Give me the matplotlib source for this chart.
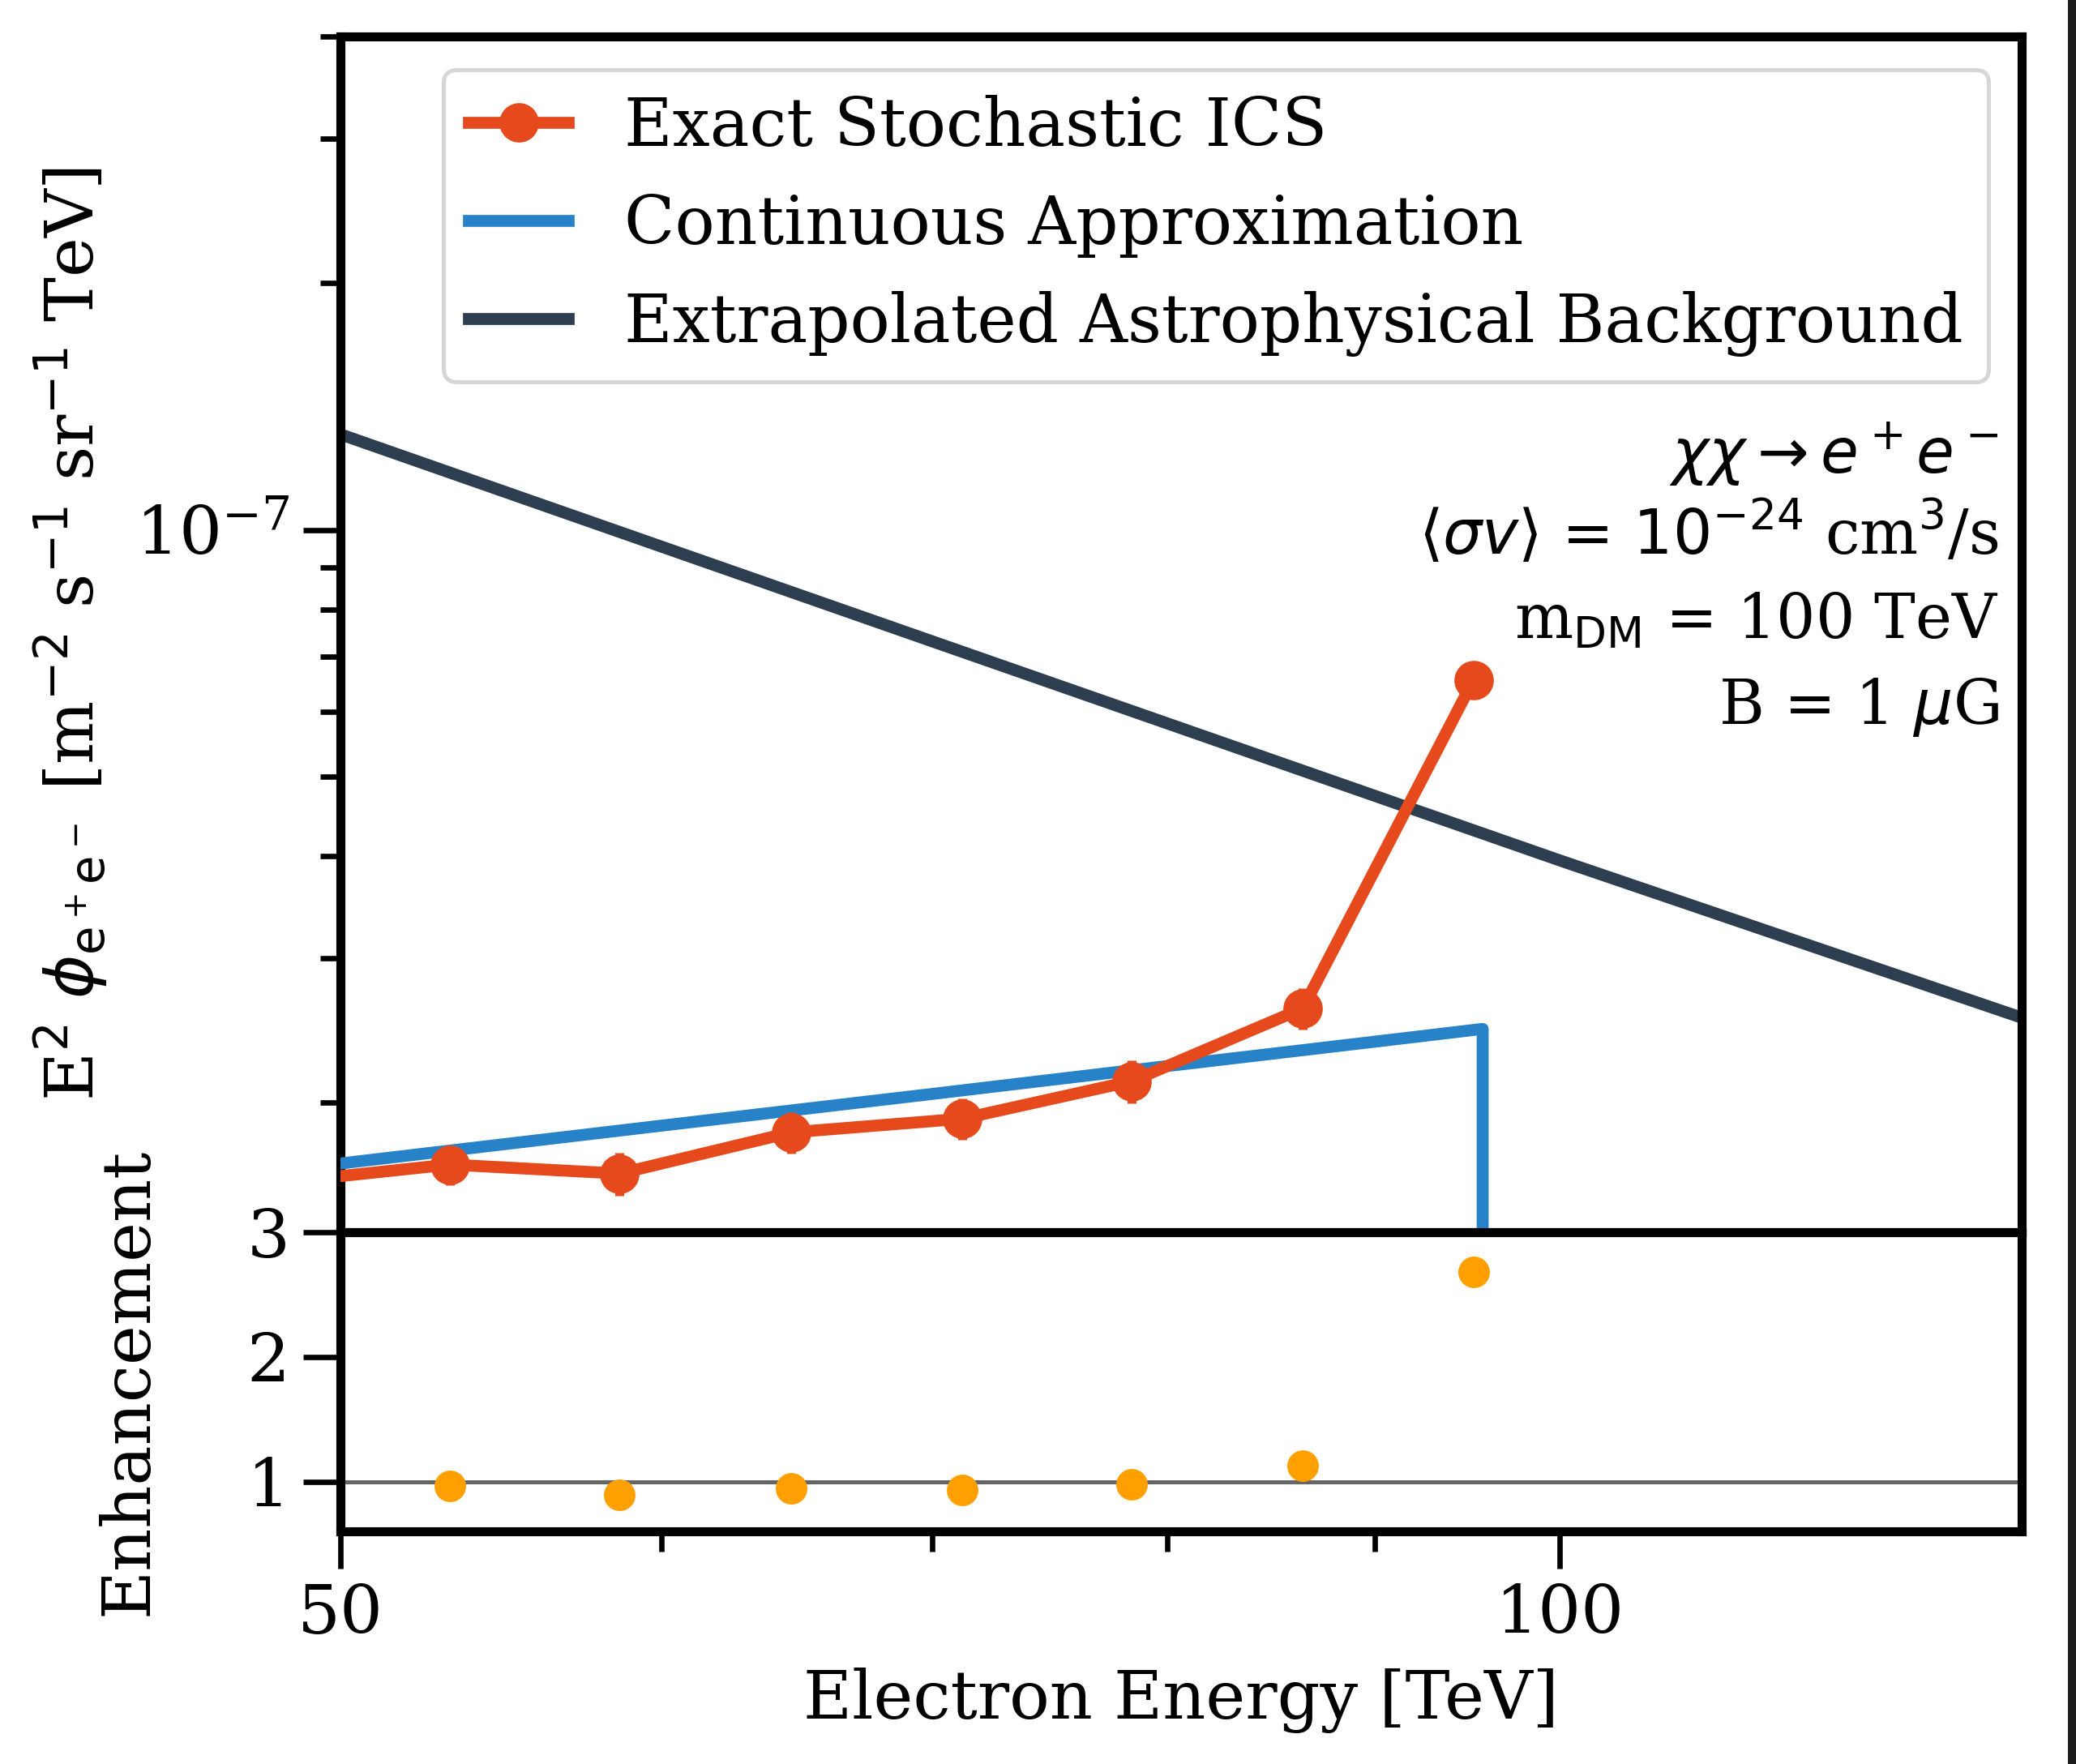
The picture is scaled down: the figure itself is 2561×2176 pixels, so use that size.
import matplotlib
matplotlib.use("Agg")
import matplotlib.pyplot as plt
from matplotlib.ticker import FixedLocator, NullFormatter, FixedFormatter, LogLocator
from matplotlib.patches import Rectangle

# ---------------- data ----------------
energy_bins = [48.3, 53.2, 58.6, 64.6, 71.2, 78.4, 86.4, 95.2]          # TeV
flux_exact = [1.598e-8, 1.681e-8, 1.639e-8, 1.840e-8, 1.912e-8, 2.125e-8, 2.607e-8, 6.556e-8]
flux_exact_err = [0.09e-8, 0.094e-8, 0.10e-8, 0.107e-8, 0.111e-8, 0.13e-8, 0.15e-8, 0.25e-8]

energy_cont = [48.0, 50.0, 60.0, 70.0, 80.0, 90.0, 95.7, 95.7]
flux_cont = [1.647e-8, 1.686e-8, 1.875e-8, 2.050e-8, 2.217e-8, 2.374e-8, 2.461e-8, 1.0e-9]

energy_bkg = [48.0, 50.0, 70.0, 100.0, 130.0, 135.0]
flux_bkg = [1.40e-7, 1.308e-7, 7.31e-8, 3.95e-8, 2.54e-8, 2.39e-8]

energy_enh = [53.2, 58.6, 64.6, 71.2, 78.4, 86.4, 95.2]
enhancement = [0.964, 0.892, 0.946, 0.931, 0.979, 1.130, 2.679]

x_major = [50, 100]
x_major_labels = ["50", "100"]
x_minor = [60, 70, 80, 90]

labels = ["Exact Stochastic ICS", "Continuous Approximation",
          "Extrapolated Astrophysical Background"]
annot_lines = [r"$\chi\chi \rightarrow e^+e^-$",
               r"$\langle\sigma v\rangle$ = $10^{-24}$ cm$^3$/s",
               r"m$_{\rm DM}$ = 100 TeV",
               r"B = 1 $\mu$G"]

# ---------------- style ----------------
plt.rcParams["font.family"] = ["DejaVu Serif"]
plt.rcParams["mathtext.fontset"] = "dejavusans"

C_EXACT = "#E64A1C"
C_CONT = "#2882C8"
C_BKG = "#2C3E50"
C_ENH = "#FFA000"

LW = 5.3
SPINE = 4.0
TICK_FS = 30
LABEL_FS = 29.7
LEG_FS = 29.4
ANN_FS = 27.4

fig = plt.figure(figsize=(12.805, 10.88), dpi=200)
fig.patch.set_facecolor("white")

ax = fig.add_axes([0.1640, 0.30147, 0.8098, 0.67785])
axr = fig.add_axes([0.1640, 0.13189, 0.8098, 0.16958], sharex=ax)

# ---------------- top panel ----------------
ax.errorbar(energy_bins, flux_exact, yerr=flux_exact_err, fmt="none", ecolor=C_EXACT,
            elinewidth=4, capsize=0, zorder=4)
h_exact, = ax.plot(energy_bins, flux_exact, color=C_EXACT, lw=LW, marker="o", ms=16.5,
                   label=labels[0], zorder=5)
h_cont, = ax.plot(energy_cont, flux_cont, color=C_CONT, lw=LW, label=labels[1], zorder=3)
h_bkg, = ax.plot(energy_bkg, flux_bkg, color=C_BKG, lw=LW, label=labels[2], zorder=2)

ax.set_xscale("log")
ax.set_yscale("log")
ax.set_xlim(50, 130)
ax.set_ylim(1.39e-8, 4e-7)

ax.yaxis.set_major_locator(LogLocator(base=10, numticks=10))
ax.yaxis.set_minor_locator(LogLocator(base=10, subs=[2, 3, 4, 5, 6, 7, 8, 9], numticks=10))
ax.yaxis.set_minor_formatter(NullFormatter())
ax.tick_params(axis="y", which="major", direction="out", length=16.5, width=2.4,
               labelsize=TICK_FS, pad=6)
ax.tick_params(axis="y", which="minor", direction="out", length=9, width=2.4)
ax.tick_params(axis="x", which="both", bottom=False, labelbottom=False)

for s in ax.spines.values():
    s.set_linewidth(SPINE)

ax.set_ylabel(r"E$^2$ $\phi_{\rm e^+e^-}$ [m$^{-2}$ s$^{-1}$ sr$^{-1}$ TeV]",
              fontsize=LABEL_FS)
ax.yaxis.set_label_coords(-0.137, 0.5)

leg = ax.legend(handles=[h_exact, h_cont, h_bkg], loc="upper right", fontsize=LEG_FS,
                frameon=True, fancybox=True, framealpha=1.0, edgecolor="#d6d6d6",
                handlelength=1.5, handletextpad=0.85, borderpad=0.38, labelspacing=0.50)
leg.get_frame().set_linewidth(1.8)

ann_y = [0.635, 0.567, 0.497, 0.425]
for txt, yy in zip(annot_lines, ann_y):
    ax.text(0.9865, yy, txt, transform=ax.transAxes, ha="right", va="baseline",
            fontsize=ANN_FS)

# ---------------- bottom panel ----------------
axr.axhline(1.0, color="#666666", lw=1.8, zorder=1)
axr.plot(energy_enh, enhancement, "o", color=C_ENH, ms=13, zorder=3)
axr.set_ylim(0.6, 3.0)
axr.set_yticks([1, 2, 3])
axr.set_yticklabels(["1", "2", "3"])

axr.xaxis.set_major_locator(FixedLocator(x_major))
axr.xaxis.set_major_formatter(FixedFormatter(x_major_labels))
axr.xaxis.set_minor_locator(FixedLocator(x_minor))
axr.xaxis.set_minor_formatter(NullFormatter())
axr.set_xlim(50, 130)

axr.tick_params(axis="both", which="major", direction="out", length=16.5, width=2.4,
                labelsize=TICK_FS, pad=6)
axr.tick_params(axis="both", which="minor", direction="out", length=9, width=2.4)
for s in axr.spines.values():
    s.set_linewidth(SPINE)

axr.set_ylabel("Enhancement", fontsize=LABEL_FS)
axr.yaxis.set_label_coords(-0.107, 0.5)
axr.set_xlabel("Electron Energy [TeV]", fontsize=LABEL_FS, labelpad=9)

# screenshot edge strip on the right
fig.patches.append(Rectangle((0.9961, 0), 0.0039, 1, transform=fig.transFigure,
                             facecolor="#1c1c1c", edgecolor="none", zorder=10))

fig.savefig("out.png", dpi=200)
